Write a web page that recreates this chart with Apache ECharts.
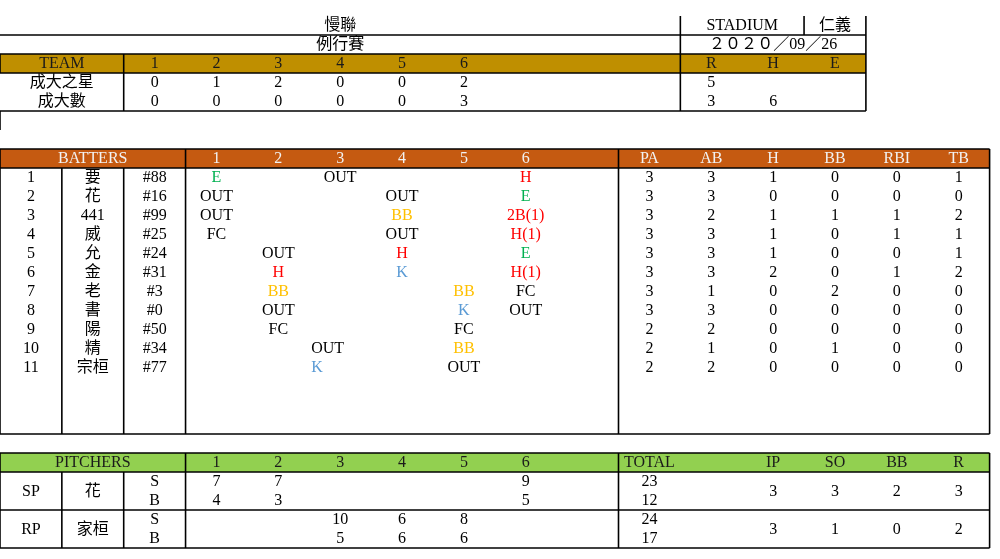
<!DOCTYPE html>
<html>
<head>
<meta charset="utf-8">
<script src="https://cdn.jsdelivr.net/npm/echarts@6/dist/echarts.min.js"></script>
<style>
html,body{margin:0;padding:0;background:#fff;}
#chart{width:1000px;height:559px;}
</style>
</head>
<body>
<div id="chart"></div>
<script>
// ---------------- DATA ----------------
const leagueTitle = '慢聯';
const gameType = '例行賽';
const stadiumLabel = 'STADIUM';
const stadiumName = '仁義';
const gameDate = '２０２０／09／26';

const innings = ['1', '2', '3', '4', '5', '6'];
const teamHeader = 'TEAM';
const rheLabels = ['R', 'H', 'E'];
const teams = ['成大之星', '成大數'];
const teamInningRuns = [
  [0, 1, 2, 0, 0, 2],
  [0, 0, 0, 0, 0, 3]
];
const teamRuns = [5, 3];
const teamHits = ['', 6];
const teamErrors = ['', ''];

const battersHeader = 'BATTERS';
const batterOrder = ['1', '2', '3', '4', '5', '6', '7', '8', '9', '10', '11'];
const batterNames = ['要', '花', '441', '威', '允', '金', '老', '書', '陽', '精', '宗桓'];
const batterNumbers = ['#88', '#16', '#99', '#25', '#24', '#31', '#3', '#0', '#50', '#34', '#77'];
const atBatResults = [
  ['E', '', 'OUT', '', '', 'H'],
  ['OUT', '', '', 'OUT', '', 'E'],
  ['OUT', '', '', 'BB', '', '2B(1)'],
  ['FC', '', '', 'OUT', '', 'H(1)'],
  ['', 'OUT', '', 'H', '', 'E'],
  ['', 'H', '', 'K', '', 'H(1)'],
  ['', 'BB', '', '', 'BB', 'FC'],
  ['', 'OUT', '', '', 'K', 'OUT'],
  ['', 'FC', '', '', 'FC', ''],
  ['', '', 'OUT', '', 'BB', ''],
  ['', '', 'K', '', 'OUT', '']
];
const batterStatLabels = ['PA', 'AB', 'H', 'BB', 'RBI', 'TB'];
const batterStats = [
  [3, 3, 1, 0, 0, 1],
  [3, 3, 0, 0, 0, 0],
  [3, 2, 1, 1, 1, 2],
  [3, 3, 1, 0, 1, 1],
  [3, 3, 1, 0, 0, 1],
  [3, 3, 2, 0, 1, 2],
  [3, 1, 0, 2, 0, 0],
  [3, 3, 0, 0, 0, 0],
  [2, 2, 0, 0, 0, 0],
  [2, 1, 0, 1, 0, 0],
  [2, 2, 0, 0, 0, 0]
];

const pitchersHeader = 'PITCHERS';
const pitcherTotalLabel = 'TOTAL';
const pitcherStatLabels = ['IP', 'SO', 'BB', 'R'];
const pitcherRoles = ['SP', 'RP'];
const pitcherNames = ['花', '家桓'];
const pitchTypeLabels = ['S', 'B'];
const pitcherStrikes = [
  [7, 7, '', '', '', 9],
  ['', '', 10, 6, 8, '']
];
const pitcherBalls = [
  [4, 3, '', '', '', 5],
  ['', '', 5, 6, 6, '']
];
const pitcherTotals = [
  [23, 12],
  [24, 17]
];
const pitcherStats = [
  [3, 3, 2, 3],
  [3, 1, 0, 2]
];

// ---------------- STYLE ----------------
const FONT = '"Liberation Serif", "Noto Sans CJK TC", serif';
const FS = 16;
const resultColors = { 'E': '#00B050', 'H': '#FF0000', '2B': '#FF0000', 'BB': '#FFC000', 'K': '#5B9BD5' };
const leftAlignedAtBats = { '9-2': true, '10-2': true };
const GOLD = '#BF8F00', ORANGE = '#C55A11', GREEN = '#92D050';

function resultColor(t) {
  if (!t) return '#000';
  const key = t.replace(/\(.*\)$/, '');
  return resultColors[key] || '#000';
}

// ---------------- BUILD CELLS (layout grid: 16 cols x 28 rows) ----------------
const cells = [];
function cell(c0, c1, r0, r1, text, color, align) {
  if (text === '' || text === null || text === undefined) return;
  cells.push({ v: [c0, r0, c1, r1], text: String(text), color: color || '#000', align: align || 'center' });
}

// header area
cell(0, 11, 0, 1, leagueTitle);
cell(0, 11, 1, 2, gameType);
cell(11, 13, 0, 1, stadiumLabel);
cell(13, 14, 0, 1, stadiumName);
cell(11, 14, 1, 2, gameDate);

// team table
cell(0, 2, 2, 3, teamHeader, '#1a1a1a');
innings.forEach((t, i) => cell(2 + i, 3 + i, 2, 3, t, '#1a1a1a'));
rheLabels.forEach((t, i) => cell(11 + i, 12 + i, 2, 3, t, '#1a1a1a'));
teams.forEach((name, k) => {
  const r = 3 + k;
  cell(0, 2, r, r + 1, name);
  teamInningRuns[k].forEach((v, i) => cell(2 + i, 3 + i, r, r + 1, v));
  cell(11, 12, r, r + 1, teamRuns[k]);
  cell(12, 13, r, r + 1, teamHits[k]);
  cell(13, 14, r, r + 1, teamErrors[k]);
});

// batters table
cell(0, 3, 7, 8, battersHeader, '#F2F2F2');
innings.forEach((t, i) => cell(3 + i, 4 + i, 7, 8, t, '#F2F2F2'));
batterStatLabels.forEach((t, j) => cell(10 + j, 11 + j, 7, 8, t, '#F2F2F2'));
batterOrder.forEach((o, k) => {
  const r = 8 + k;
  cell(0, 1, r, r + 1, o);
  cell(1, 2, r, r + 1, batterNames[k]);
  cell(2, 3, r, r + 1, batterNumbers[k]);
  atBatResults[k].forEach((t, i) => {
    cell(3 + i, 4 + i, r, r + 1, t, resultColor(t), leftAlignedAtBats[k + '-' + i] ? 'left' : 'center');
  });
  batterStats[k].forEach((v, j) => cell(10 + j, 11 + j, r, r + 1, v));
});

// pitchers table
cell(0, 3, 23, 24, pitchersHeader, '#1a1a1a');
innings.forEach((t, i) => cell(3 + i, 4 + i, 23, 24, t, '#1a1a1a'));
cell(10, 11, 23, 24, pitcherTotalLabel, '#1a1a1a');
pitcherStatLabels.forEach((t, j) => cell(12 + j, 13 + j, 23, 24, t, '#1a1a1a'));
pitcherRoles.forEach((role, p) => {
  const r = 24 + 2 * p;
  cell(0, 1, r, r + 2, role);
  cell(1, 2, r, r + 2, pitcherNames[p]);
  cell(2, 3, r, r + 1, pitchTypeLabels[0]);
  cell(2, 3, r + 1, r + 2, pitchTypeLabels[1]);
  pitcherStrikes[p].forEach((v, i) => cell(3 + i, 4 + i, r, r + 1, v));
  pitcherBalls[p].forEach((v, i) => cell(3 + i, 4 + i, r + 1, r + 2, v));
  cell(10, 11, r, r + 1, pitcherTotals[p][0]);
  cell(10, 11, r + 1, r + 2, pitcherTotals[p][1]);
  pitcherStats[p].forEach((v, j) => cell(12 + j, 13 + j, r, r + 2, v));
});

// fills (structural)
const fills = [
  { v: [0, 2, 14, 3], color: GOLD },
  { v: [0, 7, 16, 8], color: ORANGE },
  { v: [0, 23, 16, 24], color: GREEN }
];

// borders (structural grid lines)
const borders = [
  // header / team table
  [0, 1, 14, 1], [0, 2, 14, 2], [0, 3, 14, 3], [0, 5, 14, 5],
  [11, 0, 11, 5], [13, 0, 13, 1], [14, 0, 14, 5], [2, 2, 2, 5],
  [0, 2, 0, 3], [0, 5, 0, 6],
  // batters table
  [0, 7, 16, 7], [0, 8, 16, 8], [0, 22, 16, 22],
  [0, 7, 0, 22], [16, 7, 16, 22], [3, 7, 3, 22], [10, 7, 10, 22],
  [1, 8, 1, 22], [2, 8, 2, 22],
  // pitchers table
  [0, 23, 16, 23], [0, 24, 16, 24], [0, 26, 16, 26], [0, 28, 16, 28],
  [0, 23, 0, 28], [16, 23, 16, 28], [3, 23, 3, 28], [10, 23, 10, 28],
  [1, 24, 1, 28], [2, 24, 2, 28]
];

// ---------------- CHART ----------------
const chart = echarts.init(document.getElementById('chart'), null, { renderer: 'canvas' });

function rectFrom(api, v) {
  const a = api.coord([v[0], v[1]]);
  const b = api.coord([v[2], v[3]]);
  return { x: Math.min(a[0], b[0]), y: Math.min(a[1], b[1]), w: Math.abs(b[0] - a[0]), h: Math.abs(b[1] - a[1]) };
}

chart.setOption({
  animation: false,
  backgroundColor: '#ffffff',
  grid: { left: 0, top: 16, width: 989.6, height: 532, containLabel: false },
  xAxis: { type: 'value', min: 0, max: 16, show: false, splitLine: { show: false } },
  yAxis: { type: 'value', min: 0, max: 28, inverse: true, show: false, splitLine: { show: false } },
  series: [
    {
      type: 'custom',
      silent: true,
      clip: false,
      data: fills.map(f => f.v),
      renderItem: function (params, api) {
        const f = fills[params.dataIndex];
        const r = rectFrom(api, f.v);
        return { type: 'rect', shape: { x: r.x, y: r.y, width: r.w, height: r.h }, style: { fill: f.color } };
      },
      z: 1
    },
    {
      type: 'custom',
      silent: true,
      clip: false,
      data: borders,
      renderItem: function (params, api) {
        const s = borders[params.dataIndex];
        const a = api.coord([s[0], s[1]]);
        const b = api.coord([s[2], s[3]]);
        return {
          type: 'line',
          shape: { x1: a[0], y1: a[1], x2: b[0], y2: b[1] },
          style: { stroke: '#000', lineWidth: 1.6 }
        };
      },
      z: 3
    },
    {
      type: 'custom',
      silent: true,
      clip: false,
      data: cells.map(c => c.v),
      renderItem: function (params, api) {
        const c = cells[params.dataIndex];
        const r = rectFrom(api, c.v);
        const left = c.align === 'left';
        return {
          type: 'text',
          style: {
            x: left ? r.x + 2 : r.x + r.w / 2,
            y: r.y + r.h / 2 + 0.5,
            text: c.text,
            fill: c.color,
            font: FS + 'px ' + FONT,
            align: left ? 'left' : 'center',
            verticalAlign: 'middle'
          }
        };
      },
      z: 4
    }
  ]
});
</script>
</body>
</html>
